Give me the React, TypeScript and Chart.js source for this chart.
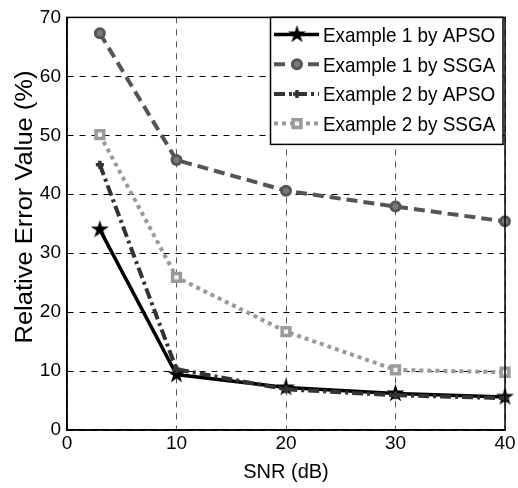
import React, { useEffect, useRef } from 'react';
import { Chart, registerables } from 'chart.js';

Chart.register(...registerables);

// ---- data ----
const snr = [3, 10, 20, 30, 40];
const ex1Apso = [34.0, 9.4, 7.2, 6.2, 5.6];
const ex1Ssga = [67.3, 45.8, 40.6, 37.9, 35.4];
const ex2Apso = [45.0, 10.3, 6.9, 5.9, 5.4];
const ex2Ssga = [50.1, 25.9, 16.7, 10.2, 9.8];
const seriesNames = [
  'Example 1 by APSO',
  'Example 1 by SSGA',
  'Example 2 by APSO',
  'Example 2 by SSGA',
];
const xTitle = 'SNR (dB)';
const yTitle = 'Relative Error Value (%)';

if (typeof document !== 'undefined') {
  document.body.style.margin = '0';
}

const FONT = '"Liberation Sans", Arial, sans-serif';

function makeStar(r: number, color: string): HTMLCanvasElement {
  const c = document.createElement('canvas');
  const s = Math.ceil(r * 2 + 2);
  c.width = s;
  c.height = s;
  const ctx = c.getContext('2d')!;
  ctx.fillStyle = color;
  ctx.beginPath();
  for (let i = 0; i < 10; i++) {
    const rad = i % 2 === 0 ? r : r * 0.382;
    const a = -Math.PI / 2 + (i * Math.PI) / 5;
    const px = s / 2 + rad * Math.cos(a);
    const py = s / 2 + rad * Math.sin(a);
    if (i === 0) ctx.moveTo(px, py);
    else ctx.lineTo(px, py);
  }
  ctx.closePath();
  ctx.fill();
  return c;
}

function drawMarker(ctx: CanvasRenderingContext2D, ds: any, x: number, y: number) {
  const style = ds.pointStyle;
  const r = ds.pointRadius;
  ctx.save();
  ctx.setLineDash([]);
  ctx.lineWidth = ds.pointBorderWidth;
  ctx.strokeStyle = ds.pointBorderColor;
  ctx.fillStyle = ds.pointBackgroundColor;
  if (style instanceof HTMLCanvasElement) {
    ctx.drawImage(style, x - style.width / 2, y - style.height / 2);
  } else if (style === 'circle') {
    ctx.beginPath();
    ctx.arc(x, y, r, 0, Math.PI * 2);
    ctx.fill();
    ctx.stroke();
  } else if (style === 'rect') {
    const h = Math.SQRT1_2 * r;
    ctx.beginPath();
    ctx.rect(x - h, y - h, 2 * h, 2 * h);
    ctx.fill();
    ctx.stroke();
  } else if (style === 'cross') {
    ctx.beginPath();
    ctx.moveTo(x - r, y);
    ctx.lineTo(x + r, y);
    ctx.moveTo(x, y - r);
    ctx.lineTo(x, y + r);
    ctx.stroke();
  }
  ctx.restore();
}

const boxAndLegend = {
  id: 'boxAndLegend',
  afterDraw(chart: any) {
    const { ctx, chartArea } = chart;
    ctx.save();
    // axes box
    ctx.setLineDash([]);
    ctx.strokeStyle = '#000';
    ctx.lineWidth = 1.5;
    ctx.strokeRect(
      chartArea.left,
      chartArea.top,
      chartArea.right - chartArea.left,
      chartArea.bottom - chartArea.top
    );
    // y axis title
    ctx.save();
    ctx.fillStyle = '#000';
    ctx.font = '25px ' + FONT;
    ctx.textAlign = 'center';
    ctx.textBaseline = 'middle';
    ctx.translate(26, 207);
    ctx.rotate(-Math.PI / 2);
    ctx.scale(1.02, 0.94);
    ctx.fillText(yTitle, 0, 0);
    ctx.restore();
    // legend
    const lx = 270.5;
    const ly = chartArea.top;
    const lw = 232.5;
    const lh = 127;
    ctx.fillStyle = '#fff';
    ctx.fillRect(lx, ly, lw, lh);
    ctx.lineWidth = 1.5;
    ctx.strokeRect(lx, ly, lw, lh);
    const datasets = chart.data.datasets;
    datasets.forEach((ds: any, i: number) => {
      const base = 42 + i * 29.7;
      const cy = base - 7.5;
      ctx.save();
      ctx.strokeStyle = ds.borderColor;
      ctx.lineWidth = ds.borderWidth;
      ctx.setLineDash(ds.borderDash || []);
      ctx.beginPath();
      ctx.moveTo(274, cy);
      ctx.lineTo(319, cy);
      ctx.stroke();
      ctx.restore();
      drawMarker(ctx, ds, 297, cy);
      ctx.save();
      ctx.fillStyle = '#000';
      ctx.font = '21px ' + FONT;
      ctx.textBaseline = 'alphabetic';
      ctx.textAlign = 'left';
      ctx.translate(323, base);
      ctx.scale(0.9, 1);
      ctx.fillText(ds.label, 0, 0);
      ctx.restore();
    });
    ctx.restore();
  },
};

function pts(ys: number[]) {
  return snr.map((x, i) => ({ x, y: ys[i] }));
}

export default function App() {
  const ref = useRef<HTMLCanvasElement | null>(null);
  useEffect(() => {
    if (!ref.current) return;
    const star = makeStar(9.5, '#000');
    const tickFont = { family: FONT, size: 19 };
    const chart = new Chart(ref.current, {
      type: 'line',
      data: {
        datasets: [
          {
            label: seriesNames[0],
            data: pts(ex1Apso),
            borderColor: '#000',
            borderWidth: 3.5,
            borderDash: [],
            pointStyle: star as any,
            pointRadius: 9,
            pointBackgroundColor: '#000',
            pointBorderColor: '#000',
            pointBorderWidth: 1,
            order: 3,
            clip: false as any,
          },
          {
            label: seriesNames[1],
            data: pts(ex1Ssga),
            borderColor: '#555',
            borderWidth: 4,
            borderDash: [11, 6],
            pointStyle: 'circle',
            pointRadius: 4.5,
            pointBackgroundColor: '#7a7a7a',
            pointBorderColor: '#555',
            pointBorderWidth: 3,
            order: 2,
            clip: false as any,
          },
          {
            label: seriesNames[2],
            data: pts(ex2Apso),
            borderColor: '#333',
            borderWidth: 4,
            borderDash: [11, 4, 3, 4],
            pointStyle: 'cross',
            pointRadius: 4,
            pointBackgroundColor: '#333',
            pointBorderColor: '#333',
            pointBorderWidth: 3.5,
            order: 1,
            clip: false as any,
          },
          {
            label: seriesNames[3],
            data: pts(ex2Ssga),
            borderColor: '#9a9a9a',
            borderWidth: 4,
            borderDash: [4, 4],
            pointStyle: 'rect',
            pointRadius: 5.5,
            pointBackgroundColor: '#f4f4f4',
            pointBorderColor: '#9a9a9a',
            pointBorderWidth: 3.5,
            order: 0,
            clip: false as any,
          },
        ],
      },
      plugins: [boxAndLegend],
      options: {
        animation: false,
        responsive: false,
        maintainAspectRatio: false,
        layout: { padding: { top: 13, right: 13, left: 0, bottom: 0 } },
        plugins: {
          legend: { display: false },
          tooltip: { enabled: false },
        },
        elements: { line: { tension: 0 } },
        scales: {
          x: {
            type: 'linear',
            min: 0,
            max: 40,
            ticks: { stepSize: 10, color: '#000', font: tickFont, padding: 2 },
            grid: { color: '#555', lineWidth: 1, drawTicks: false },
            border: { display: true, color: '#000', width: 1.5, dash: [6, 6] },
            title: {
              display: true,
              text: xTitle,
              color: '#000',
              font: { family: FONT, size: 20 },
              padding: { top: 0, bottom: 4 },
            },
            afterFit: (s: any) => {
              s.height = 58;
            },
          },
          y: {
            type: 'linear',
            min: 0,
            max: 70,
            ticks: { stepSize: 10, color: '#000', font: tickFont, padding: 6 },
            grid: { color: '#000', lineWidth: 1, drawTicks: false },
            border: { display: true, color: '#000', width: 1.5, dash: [6, 6] },
            title: { display: false, text: yTitle },
            afterFit: (s: any) => {
              s.width = 67;
            },
          },
        },
      } as any,
    });
    return () => chart.destroy();
  }, []);
  return (
    <div style={{ width: 518, height: 488 }}>
      <canvas ref={ref} width={518} height={488} style={{ display: 'block', width: 518, height: 488 }} />
    </div>
  );
}
